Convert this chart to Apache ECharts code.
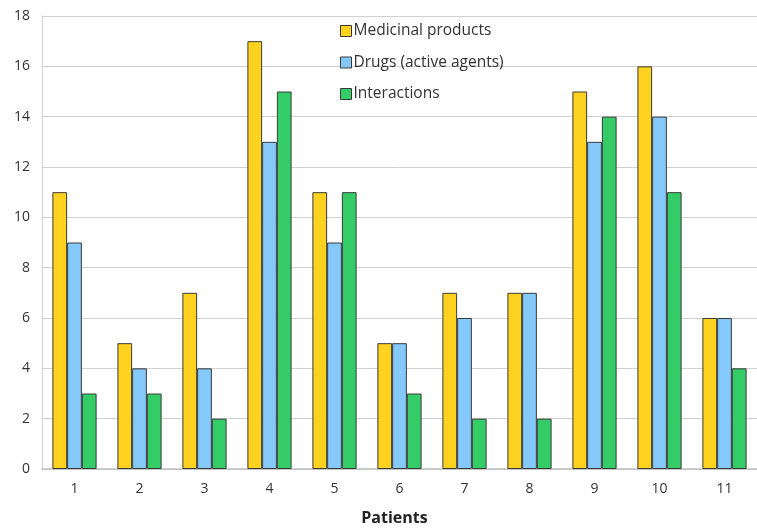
<!DOCTYPE html>
<html><head><meta charset="utf-8">
<script src="https://cdn.jsdelivr.net/npm/echarts@6/dist/echarts.min.js"></script>
<style>html,body{margin:0;padding:0;background:#fff}#c{width:757px;height:531px}</style>
</head><body><div id="c"></div>
<script>
const categories = ['1','2','3','4','5','6','7','8','9','10','11'];
const medicinalProducts = [11,5,7,17,11,5,7,7,15,16,6];
const drugs = [9,4,4,13,9,5,6,7,13,14,6];
const interactions = [3,3,2,15,11,3,2,2,14,11,4];
const seriesNames = ['Medicinal products','Drugs (active agents)','Interactions'];
const colors = ['#FFD21F','#85C8FA','#33CC66'];
const font = 'Open Sans';
const chart = echarts.init(document.getElementById('c'));
const mk = (name, data, color) => ({
  name, type:'bar', data, barGap:'0%', barCategoryGap:'32%',
  itemStyle:{color, borderColor:'#3a3a3a', borderWidth:1}
});
chart.setOption({
  animation:false,
  textStyle:{fontFamily:font},
  legend:{
    orient:'vertical', left:335, top:18, itemGap:15.5, itemWidth:11, itemHeight:11,
    icon:'rect',
    textStyle:{fontSize:15.5, color:'#333', fontFamily:font, padding:[0,0,0,-3]},
    data:seriesNames.map(n=>({name:n, itemStyle:{borderColor:'#3a3a3a', borderWidth:1}}))
  },
  grid:{left:42, top:16, width:725, height:455, containLabel:false},
  xAxis:{
    type:'category', data:categories, name:'Patients', nameLocation:'middle', nameGap:41,
    nameTextStyle:{fontSize:16, fontWeight:'bold', color:'#222', fontFamily:font, padding:[0,0,0,-10]},
    axisLine:{lineStyle:{color:'#BFBFBF', width:1.5}}, axisTick:{show:false},
    axisLabel:{fontSize:14, color:'#333', margin:13}
  },
  yAxis:{
    type:'value', min:0, max:18, interval:2,
    axisLine:{show:true, lineStyle:{color:'#D0D0D0'}}, axisTick:{show:false},
    axisLabel:{fontSize:14, color:'#333', margin:12},
    splitLine:{lineStyle:{color:'#D0D0D0', width:1}}
  },
  series:[mk(seriesNames[0], medicinalProducts, colors[0]), mk(seriesNames[1], drugs, colors[1]), mk(seriesNames[2], interactions, colors[2])]
});
</script></body></html>
